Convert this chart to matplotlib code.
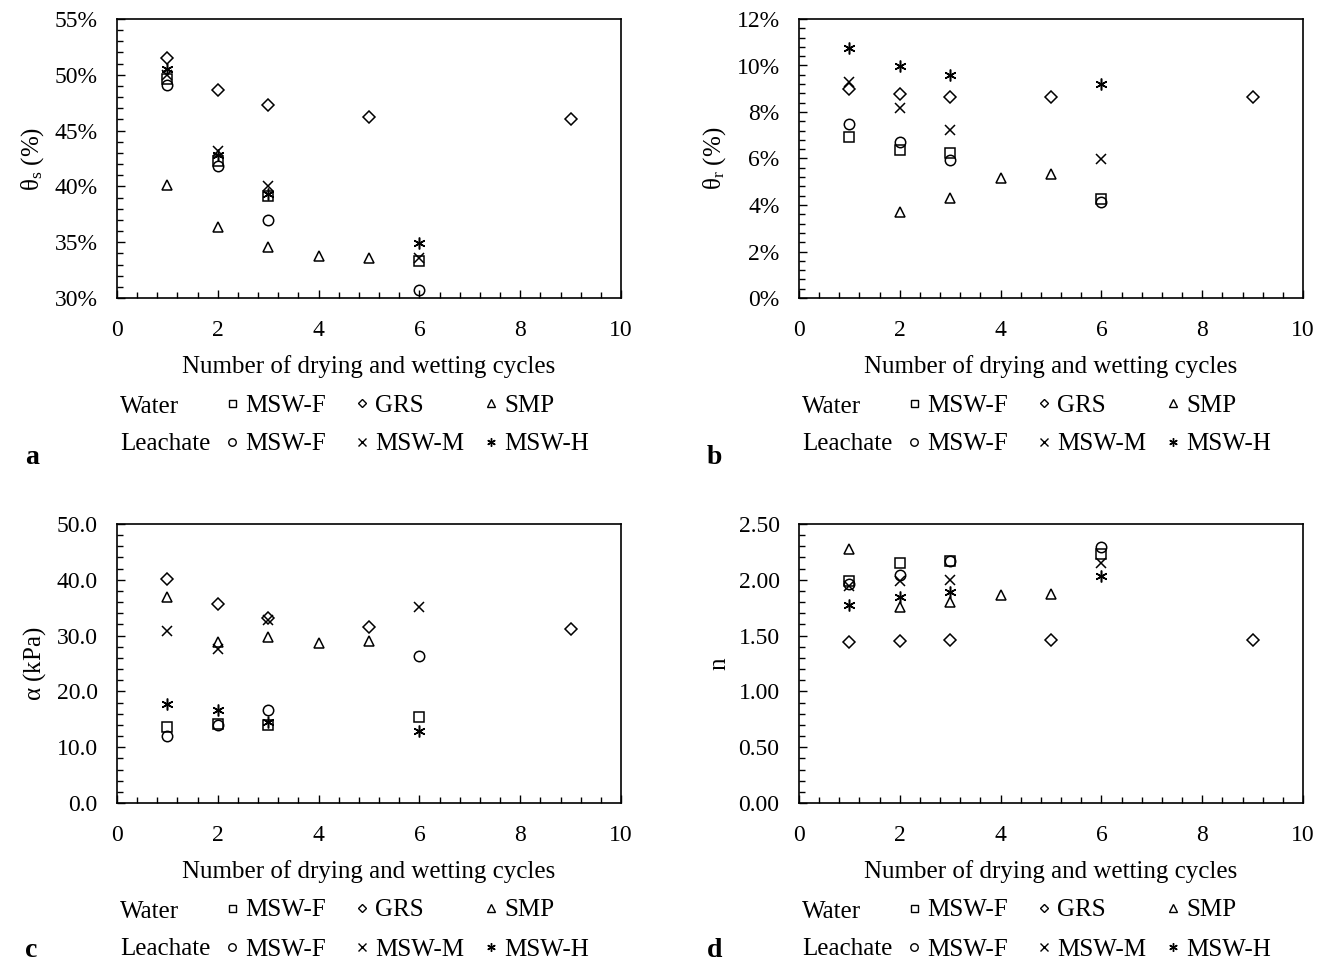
import numpy as np
import matplotlib
matplotlib.use('Agg')
import matplotlib.pyplot as plt
from matplotlib.ticker import MultipleLocator, FuncFormatter
from matplotlib.lines import Line2D

plt.rcParams['font.family'] = ['Liberation Serif', 'DejaVu Serif']
plt.rcParams['mathtext.fontset'] = 'custom'
plt.rcParams['mathtext.rm'] = 'Liberation Serif'
plt.rcParams['mathtext.it'] = 'Liberation Serif:italic'

# drying / wetting cycles for each material
cycles_msw = [1, 2, 3, 6]
cycles_grs = [1, 2, 3, 5, 9]
cycles_smp = [1, 2, 3, 4, 5]

# (a) saturated water content theta_s (%)
a_water_mswf = [49.6, 42.3, 39.1, 33.3]
a_water_grs = [51.5, 48.6, 47.3, 46.2, 46.0]
a_water_smp = [40.1, 36.4, 34.6, 33.8, 33.6]
a_leach_mswf = [49.1, 41.8, 37.0, 30.7]
a_leach_mswm = [50.0, 43.2, 40.0, 33.6]
a_leach_mswh = [50.5, 42.8, 39.3, 34.9]

# (b) residual water content theta_r (%)
b_water_mswf = [6.94, 6.37, 6.22, 4.25]
b_water_grs = [8.98, 8.77, 8.66, 8.63, 8.63]
b_water_smp = [np.nan, 3.71, 4.31, 5.18, 5.32]
b_leach_mswf = [7.48, 6.70, 5.94, 4.12]
b_leach_mswm = [9.30, 8.16, 7.23, 5.98]
b_leach_mswh = [10.77, 9.98, 9.59, 9.20]

# (c) alpha (kPa)
c_water_mswf = [13.7, 14.2, 14.0, 15.4]
c_water_grs = [40.2, 35.7, 33.2, 31.5, 31.2]
c_water_smp = [37.0, 28.8, 29.7, 28.7, 29.1]
c_leach_mswf = [12.0, 13.9, 16.7, 26.4]
c_leach_mswm = [30.9, 27.6, 32.8, 35.2]
c_leach_mswh = [17.7, 16.7, 14.6, 12.9]

# (d) n
d_water_mswf = [1.99, 2.155, 2.17, 2.23]
d_water_grs = [1.446, 1.455, 1.464, 1.464, 1.464]
d_water_smp = [2.28, 1.756, 1.80, 1.86, 1.875]
d_leach_mswf = [1.96, 2.04, 2.17, 2.29]
d_leach_mswm = [1.94, 1.985, 2.00, 2.15]
d_leach_mswh = [1.777, 1.845, 1.89, 2.03]

series_labels = ['MSW-F', 'GRS', 'SMP', 'MSW-F', 'MSW-M', 'MSW-H']
STAR = (6, 2, 0)
markers = ['s', 'D', '^', 'o', 'x', STAR]
msizes = [7, 6, 7.5, 7.5, 7.5, 8.5]

panels = [
    ('a', [a_water_mswf, a_water_grs, a_water_smp, a_leach_mswf, a_leach_mswm, a_leach_mswh],
     r'$\mathrm{\theta}_\mathrm{s}$ (%)', (30, 55), 5, lambda v, p: f'{v:.0f}%'),
    ('b', [b_water_mswf, b_water_grs, b_water_smp, b_leach_mswf, b_leach_mswm, b_leach_mswh],
     r'$\mathrm{\theta}_\mathrm{r}$ (%)', (0, 12), 2, lambda v, p: f'{v:.0f}%'),
    ('c', [c_water_mswf, c_water_grs, c_water_smp, c_leach_mswf, c_leach_mswm, c_leach_mswh],
     r'$\mathrm{\alpha}$ (kPa)', (0, 50), 10, lambda v, p: f'{v:.1f}'),
    ('d', [d_water_mswf, d_water_grs, d_water_smp, d_leach_mswf, d_leach_mswm, d_leach_mswh],
     'n', (0, 2.5), 0.5, lambda v, p: f'{v:.2f}'),
]
xs = [cycles_msw, cycles_grs, cycles_smp, cycles_msw, cycles_msw, cycles_msw]

W, H = 1326, 964
fig = plt.figure(figsize=(W / 100, H / 100), dpi=100)

# axes boxes in pixels: left, top, right, bottom
boxes = [(117, 19, 621, 298), (799, 19, 1303, 298),
         (117, 524, 621, 803), (799, 524, 1303, 803)]
letter_base = [464, 464, 957, 957]
# legend columns: (water entry, leachate entry) and marker x offset from axes left
leg_cols = [((0, 3), 115), ((1, 4), 245), ((2, 5), 374)]

FS = 17
for (letter, vals, ylab, ylim, major, fmt), (l, t, r, b), lb in zip(panels, boxes, letter_base):
    ax = fig.add_axes([l / W, 1 - b / H, (r - l) / W, (b - t) / H])
    for x, y, m, ms in zip(xs, vals, markers, msizes):
        ax.plot(x, y, linestyle='none', marker=m, ms=ms, mfc='none',
                mec='black', mew=1.1, color='black')
    ax.set_xlim(0, 10)
    ax.set_ylim(*ylim)
    ax.xaxis.set_major_locator(MultipleLocator(2))
    ax.xaxis.set_minor_locator(MultipleLocator(0.4))
    ax.yaxis.set_major_locator(MultipleLocator(major))
    ax.yaxis.set_minor_locator(MultipleLocator(major / 5))
    ax.yaxis.set_major_formatter(FuncFormatter(fmt))
    ax.tick_params(which='both', direction='in', labelsize=FS)
    ax.tick_params(axis='x', which='both', pad=16)
    ax.tick_params(axis='y', which='both', pad=14)
    ax.tick_params(which='major', length=6, width=1)
    ax.tick_params(which='minor', length=4, width=1)
    for s in ax.spines.values():
        s.set_linewidth(1.2)
    ax.set_xlabel('Number of drying and wetting cycles', fontsize=18, labelpad=10)
    ax.set_ylabel(ylab, fontsize=18, labelpad=6)

    handles = [Line2D([], [], linestyle='none', marker=m, ms=ms * 0.72, mfc='none',
                      mec='black', mew=1.0) for m, ms in zip(markers, msizes)]
    for idx, dx in leg_cols:
        fig.legend([handles[i] for i in idx], [series_labels[i] for i in idx],
                   loc='upper left',
                   bbox_to_anchor=((l + dx - 7.5) / W, 1 - (b + 96) / H),
                   bbox_transform=fig.transFigure, frameon=False, fontsize=18,
                   handlelength=0.6, handletextpad=0.22,
                   labelspacing=0.66, borderaxespad=0, borderpad=0)
    fig.text((l + 3) / W, 1 - (b + 109) / H, 'Water', fontsize=18, va='center', ha='left')
    fig.text((l + 3) / W, 1 - (b + 146) / H, 'Leachate', fontsize=18, va='center', ha='left')
    fig.text((l - 92) / W, 1 - lb / H, letter, fontsize=20,
             fontweight='bold', va='baseline', ha='left')

fig.savefig('out.png', dpi=100)
